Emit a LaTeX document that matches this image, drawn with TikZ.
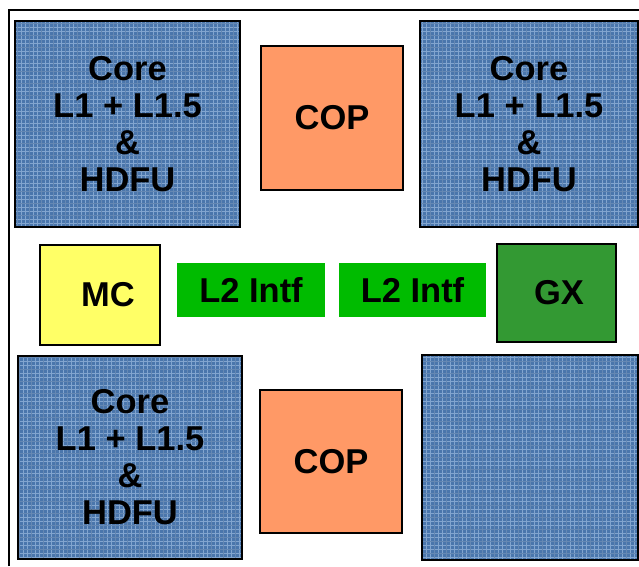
\documentclass[tikz,border=0pt]{standalone}
\usepackage{fontspec}
\setmainfont{Liberation Sans}
\definecolor{coreblue}{RGB}{74,118,172}
\definecolor{coregrid}{RGB}{150,182,220}
\definecolor{coporange}{RGB}{255,153,102}
\definecolor{mcyellow}{RGB}{255,255,102}
\definecolor{intfgreen}{RGB}{0,187,0}
\definecolor{gxgreen}{RGB}{51,153,51}
\tikzset{
  unit/.style={draw=black, line width=1.4pt, inner sep=0pt, align=center,
    font=\fontsize{34.5}{37}\selectfont\bfseries},
  corebox/.style={unit, fill=coreblue,
    path picture={
      \draw[coregrid, line width=0.7pt, opacity=0.75, step=4pt]
        (path picture bounding box.south west) grid (path picture bounding box.north east);
      \draw[coreblue!80!black, line width=0.5pt, opacity=0.4, step=12pt]
        (path picture bounding box.south west) grid (path picture bounding box.north east);
    }},
  copbox/.style={unit, fill=coporange},
  intfbox/.style={unit, draw=none, fill=intfgreen}
}
\begin{document}
\begin{tikzpicture}[x=1pt, y=-1pt]
  \useasboundingbox (0,0) rectangle (639,566);
  % outer frame, open to the right and at the bottom
  \draw[line width=1.6pt] (9,566) -- (9,10) -- (639,10);
  % the four cores
  \node[corebox, minimum width=225pt, minimum height=206pt] (coreTL) at (127.5,124) {Core\\L1 + L1.5\\\&\\HDFU};
  \node[corebox, minimum width=218pt, minimum height=206pt] (coreTR) at (529,124) {Core\\L1 + L1.5\\\&\\HDFU};
  \node[corebox, minimum width=224pt, minimum height=203pt] (coreBL) at (130,457.5) {Core\\L1 + L1.5\\\&\\HDFU};
  \node[corebox, minimum width=216pt, minimum height=205pt] (coreBR) at (530,457.5) {};
  % co-processors
  \node[copbox, minimum width=142pt, minimum height=144pt] (copT) at (332,118) {COP};
  \node[copbox, minimum width=142pt, minimum height=143pt] (copB) at (331,461.5) {COP};
  % middle row
  \node[unit, fill=mcyellow, minimum width=120pt, minimum height=100pt] (mc) at (100,295) {\hspace{16pt}MC};
  \node[intfbox, minimum width=148pt, minimum height=54pt] (intfL) at (251,290) {L2 Intf};
  \node[intfbox, minimum width=147pt, minimum height=54pt] (intfR) at (412.5,290) {L2 Intf};
  \node[unit, fill=gxgreen, minimum width=119pt, minimum height=98pt] (gx) at (556.5,293) {\hspace{5pt}GX};
\end{tikzpicture}
\end{document}
